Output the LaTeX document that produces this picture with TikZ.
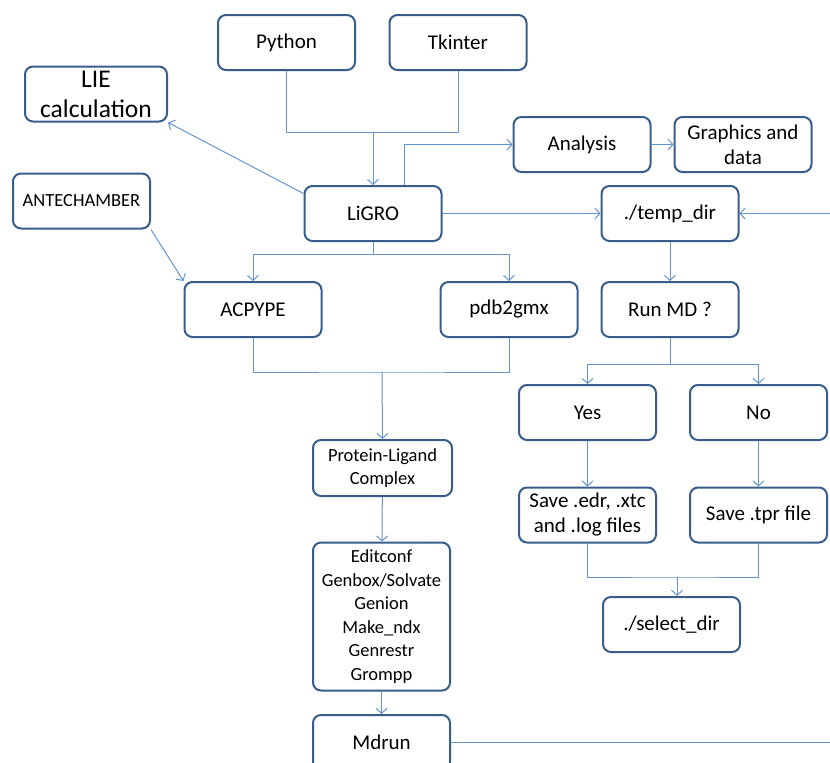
\documentclass[tikz,border=0pt]{standalone}
\usepackage{fontspec}
\setmainfont{Carlito}
\usetikzlibrary{arrows.meta, positioning}
\definecolor{BoxBorder}{RGB}{56,93,138}
\definecolor{LinkBlue}{RGB}{100,148,208}
\tikzset{
  flowbox/.style={draw=BoxBorder, line width=2pt, rounded corners=8pt, minimum width=137pt, minimum height=55pt, align=center, inner sep=2pt, font=\fontsize{21}{25}\selectfont},
  smallbox/.style={flowbox, font=\fontsize{18.5}{23.5}\selectfont},
  bigbox/.style={flowbox, minimum width=142pt, font=\fontsize{25.5}{30}\selectfont},
  link/.style={draw=LinkBlue, line width=1pt},
  linkarrow/.style={link, -{Straight Barb[length=5pt, width=11pt]}}
}
\begin{document}
\begin{tikzpicture}[x=1pt, y=-1pt]
  \clip (0,0) rectangle (830,763);
  \node[flowbox] (python) at (286.5,42.5) {Python};
  \node[flowbox] (tkinter) at (458,42.5) {Tkinter};
  \node[bigbox] (lie) at (96,94) {LIE\\calculation};
  \node[smallbox] (ante) at (81.5,201) {ANTECHAMBER};
  \node[flowbox] (ligro) at (373,213.5) {LiGRO};
  \node[flowbox] (analysis) at (582,144.5) {Analysis};
  \node[flowbox] (graphics) at (743,144.5) {Graphics and\\data};
  \node[flowbox] (temp) at (670,213.5) {./temp\_dir};
  \node[flowbox] (acpype) at (253,309.5) {ACPYPE};
  \node[flowbox] (pdb) at (509,309.5) {pdb2gmx};
  \node[flowbox] (runmd) at (670,309.5) {Run MD ?};
  \node[flowbox] (yes) at (587.5,412.5) {Yes};
  \node[flowbox] (no) at (758.5,412.5) {No};
  \node[flowbox] (saveedr) at (587.5,515) {Save .edr, .xtc\\and .log files};
  \node[flowbox] (savetpr) at (758.5,515) {Save .tpr file};
  \node[flowbox] (select) at (671.5,624.5) {./select\_dir};
  \node[smallbox, minimum width=139pt, minimum height=56pt] (complex) at (382.5,468) {Protein-Ligand\\Complex};
  \node[smallbox, minimum height=148pt] (tools) at (381.5,616.5) {Editconf\\Genbox/Solvate\\Genion\\Make\_ndx\\Genrestr\\Grompp};
  \node[flowbox] (mdrun) at (381.5,742.5) {Mdrun};

  \coordinate (topjoin) at (373,132);
  \coordinate (ligrojoin) at (373,254);
  \coordinate (ffjoin) at (382,372);
  \coordinate (mdjoin) at (670,364);
  \coordinate (savejoin) at (677,577);
  \coordinate (loopin) at (830,213.5);
  \coordinate (loopout) at (830,742.5);

  \draw[link] (python.south) -- (python.south |- topjoin) -- (tkinter.south |- topjoin) -- (tkinter.south);
  \draw[linkarrow] (topjoin) -- (ligro.north);
  \draw[linkarrow] ([yshift=20pt]ligro.west) -- (lie.south east);
  \draw[linkarrow] ([xshift=31pt]ligro.north) |- (analysis.west);
  \draw[linkarrow] (analysis) -- (graphics);
  \draw[linkarrow] (ligro) -- (temp);
  \draw[linkarrow] (loopin) -- (temp.east);
  \draw[linkarrow] (ante.south east) -- (acpype.north west);
  \draw[link] (ligro.south) -- (ligrojoin);
  \draw[linkarrow] (ligrojoin) -| (acpype.north);
  \draw[linkarrow] (ligrojoin) -| (pdb.north);
  \draw[link] (acpype.south) |- (ffjoin) -| (pdb.south);
  \draw[linkarrow] (ffjoin) -- (complex.north);
  \draw[linkarrow] (complex) -- (tools);
  \draw[linkarrow] (tools) -- (mdrun);
  \draw[link] (mdrun.east) -- (loopout);
  \draw[linkarrow] (temp) -- (runmd);
  \draw[link] (runmd.south) -- (mdjoin);
  \draw[linkarrow] (mdjoin) -| (yes.north);
  \draw[linkarrow] (mdjoin) -| (no.north);
  \draw[linkarrow] (yes) -- (saveedr);
  \draw[linkarrow] (no) -- (savetpr);
  \draw[link] (saveedr.south) |- (savejoin) -| (savetpr.south);
  \draw[linkarrow] (savejoin) -- (savejoin |- select.north);
\end{tikzpicture}
\end{document}
